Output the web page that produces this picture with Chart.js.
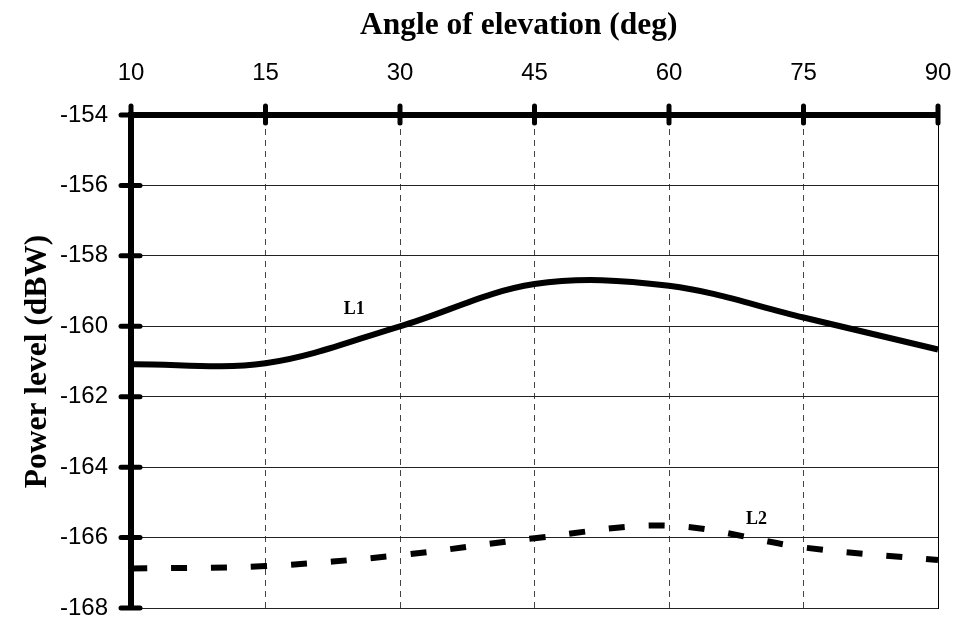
<!DOCTYPE html>
<html>
<head>
<meta charset="utf-8">
<script src="https://cdn.jsdelivr.net/npm/chart.js@4.4.0/dist/chart.umd.min.js"></script>
<style>
  html, body { margin: 0; padding: 0; background: #fff; }
  #wrap { width: 956px; height: 618px; }
</style>
</head>
<body>
<div id="wrap"><canvas id="chartPower"></canvas></div>
<script>
// ── Data ────────────────────────────────────────────────────
const angles = ['10', '15', '30', '45', '60', '75', '90'];
const powerL1 = [-161.08, -161.05, -160.0, -158.8, -158.85, -159.75, -160.66];
const powerL2 = [-166.88, -166.81, -166.5, -166.02, -165.66, -166.28, -166.64];
const yMin = -168;
const yMax = -154;
const yStep = 2;
// curve labels, anchored in data units (category index, dBW)
const curveLabels = [
  { text: 'L1', index: 1.66, value: -159.53 },
  { text: 'L2', index: 4.65, value: -165.48 }
];

const SERIF = "'Liberation Serif', 'Times New Roman', serif";
const SANS = "'Liberation Sans', Arial, sans-serif";

// thick round tick marks across the axes + curve labels
const axisDecor = {
  id: 'axisDecor',
  afterDatasetsDraw(chart) {
    const { ctx, chartArea: a, scales } = chart;
    ctx.save();
    ctx.strokeStyle = '#000';
    ctx.lineWidth = 5;
    ctx.lineCap = 'round';
    scales.x.ticks.forEach((t, i) => {
      const px = scales.x.getPixelForTick(i);
      ctx.beginPath();
      ctx.moveTo(px, a.top - 9);
      ctx.lineTo(px, a.top + 8);
      ctx.stroke();
    });
    scales.y.ticks.forEach((t, i) => {
      const py = scales.y.getPixelForTick(i);
      ctx.beginPath();
      ctx.moveTo(a.left - 10, py);
      ctx.lineTo(a.left + 9, py);
      ctx.stroke();
    });
    ctx.fillStyle = '#000';
    ctx.font = 'bold 18px ' + SERIF;
    ctx.textAlign = 'center';
    ctx.textBaseline = 'middle';
    curveLabels.forEach(l => {
      ctx.fillText(l.text, scales.x.getPixelForValue(l.index), scales.y.getPixelForValue(l.value));
    });
    ctx.restore();
  }
};

new Chart(document.getElementById('chartPower'), {
  type: 'line',
  data: {
    labels: angles,
    datasets: [
      {
        label: 'L1',
        data: powerL1,
        borderColor: '#000',
        borderWidth: 6,
        pointRadius: 0,
        tension: 0.35,
        fill: false
      },
      {
        label: 'L2',
        data: powerL2,
        borderColor: '#000',
        borderWidth: 6,
        borderDash: [16, 24],
        borderCapStyle: 'butt',
        pointRadius: 0,
        tension: 0.35,
        fill: false
      }
    ]
  },
  options: {
    responsive: true,
    maintainAspectRatio: false,
    animation: false,
    layout: { padding: { left: 0, top: 0, right: 18, bottom: 10 } },
    plugins: {
      legend: { display: false },
      tooltip: { enabled: false }
    },
    scales: {
      x: {
        position: 'top',
        offset: false,
        afterFit: (s) => {
          s.height = 115;
          s.paddingLeft = 0;
          s.paddingRight = 0;
        },
        grid: {
          color: '#444',
          lineWidth: 1,
          drawTicks: false
        },
        border: { display: true, color: '#000', width: 6, dash: [6, 5] },
        ticks: {
          color: '#000',
          padding: 27,
          font: { family: SANS, size: 24 },
          maxRotation: 0,
          autoSkip: false
        },
        title: {
          display: true,
          text: 'Angle of elevation (deg)\u2003',
          color: '#000',
          font: { family: SERIF, size: 31.5, weight: 'bold' },
          padding: { top: 7, bottom: 0 }
        }
      },
      y: {
        min: yMin,
        max: yMax,
        afterFit: (s) => {
          s.width = 131;
          s.paddingTop = 0;
          s.paddingBottom = 0;
        },
        grid: {
          color: '#222',
          lineWidth: 1,
          drawTicks: false
        },
        border: { display: true, color: '#000', width: 6 },
        ticks: {
          stepSize: yStep,
          color: '#000',
          padding: 23,
          font: { family: SANS, size: 24 }
        },
        title: {
          display: true,
          text: 'Power level (dBW)',
          color: '#000',
          font: { family: SERIF, size: 31.5, weight: 'bold' },
          padding: { top: 19, bottom: 0 }
        }
      },
      y2: {
        position: 'right',
        min: yMin,
        max: yMax,
        afterFit: (s) => {
          s.width = 0;
          s.paddingTop = 0;
          s.paddingBottom = 0;
        },
        grid: { display: false, drawTicks: false },
        border: { display: true, color: '#000', width: 1 },
        ticks: { display: false }
      }
    }
  },
  plugins: [axisDecor]
});
</script>
</body>
</html>
